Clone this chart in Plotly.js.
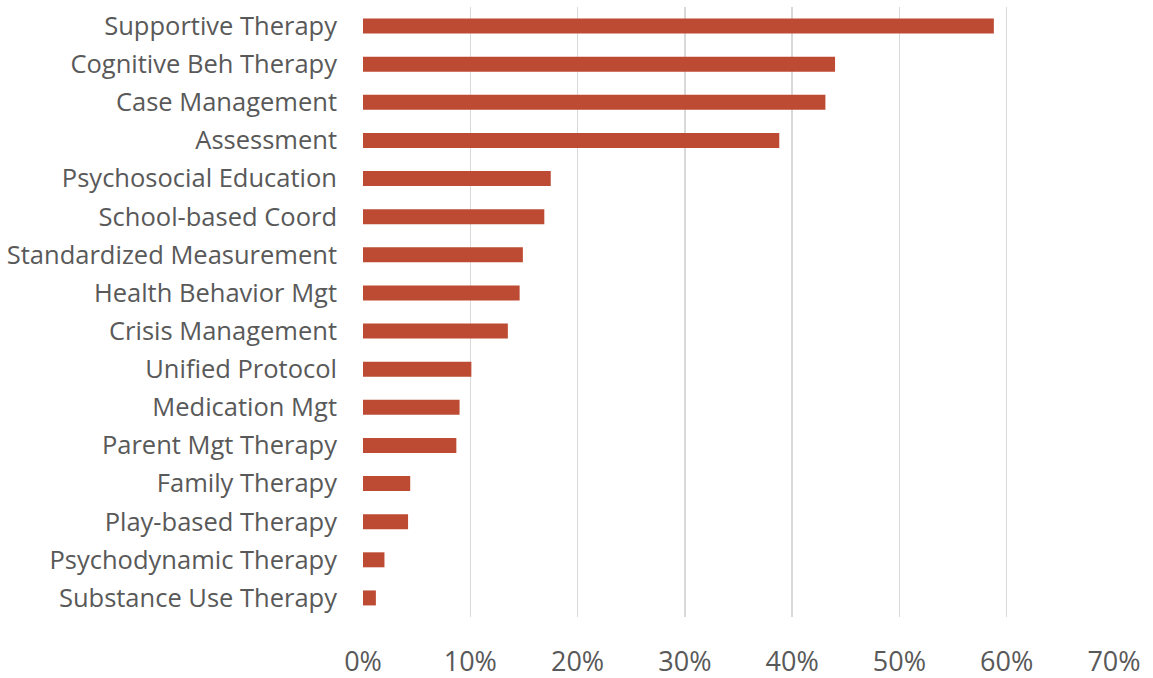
<!DOCTYPE html>
<html>
<head>
<meta charset="utf-8">
<script src="https://cdn.plot.ly/plotly-3.0.1.min.js"></script>
<style>html,body{margin:0;padding:0;background:#fff;}#chart{width:1153px;height:678px;}</style>
</head>
<body>
<div id="chart"></div>
<script>
const categories = [
  "Supportive Therapy",
  "Cognitive Beh Therapy",
  "Case Management",
  "Assessment",
  "Psychosocial Education",
  "School-based Coord",
  "Standardized Measurement",
  "Health Behavior Mgt",
  "Crisis Management",
  "Unified Protocol",
  "Medication Mgt",
  "Parent Mgt Therapy",
  "Family Therapy",
  "Play-based Therapy",
  "Psychodynamic Therapy",
  "Substance Use Therapy"
];
const values = [0.588, 0.440, 0.431, 0.388, 0.175, 0.169, 0.149, 0.146, 0.135, 0.101, 0.090, 0.087, 0.044, 0.042, 0.020, 0.012];
const xTicks = [0, 0.1, 0.2, 0.3, 0.4, 0.5, 0.6, 0.7];
const xTickLabels = ["0%", "10%", "20%", "30%", "40%", "50%", "60%", "70%"];

const trace = {
  type: "bar",
  orientation: "h",
  x: values,
  y: categories,
  marker: {color: "#BD4A32", line: {width: 0}},
  width: 0.393,
  hoverinfo: "x+y"
};

const layout = {
  width: 1153,
  height: 678,
  margin: {l: 363, r: 39, t: 7, b: 61, pad: 0},
  paper_bgcolor: "#ffffff",
  plot_bgcolor: "#ffffff",
  font: {family: "Open Sans, sans-serif", color: "#595959"},
  showlegend: false,
  xaxis: {
    range: [0, 0.7],
    tickvals: xTicks,
    ticktext: xTickLabels,
    showgrid: true,
    gridcolor: "#D9D9D9",
    gridwidth: 1.5,
    zeroline: false,
    showline: false,
    ticks: "",
    ticklabelstandoff: 26,
    tickfont: {size: 27, color: "#595959", family: "Open Sans, sans-serif"},
    fixedrange: true
  },
  yaxis: {
    type: "category",
    autorange: "reversed",
    showgrid: false,
    zeroline: false,
    showline: false,
    ticks: "",
    ticklabelstandoff: 25,
    tickfont: {size: 25.5, color: "#595959", family: "Open Sans, sans-serif"},
    fixedrange: true
  }
};

Plotly.newPlot("chart", [trace], layout, {displayModeBar: false, staticPlot: true});
</script>
</body>
</html>
